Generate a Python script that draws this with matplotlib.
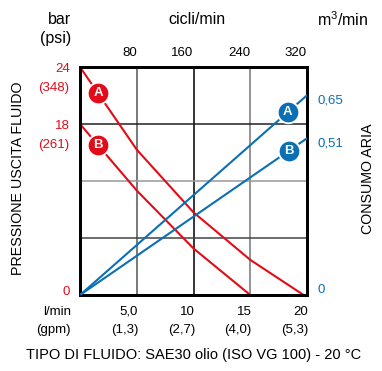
import numpy as np
import matplotlib
matplotlib.use('Agg')
import matplotlib.pyplot as plt

plt.rcParams['font.family'] = ['Liberation Sans', 'DejaVu Sans']
plt.rcParams['mathtext.fontset'] = 'custom'
plt.rcParams['mathtext.rm'] = 'Liberation Sans'

RED = '#e30b17'
BLUE = '#0a6fb5'

# flow (l/min) on the bottom axis, cycles on the top axis
flow_ticks = [5, 10, 15, 20]
flow_labels = ['5,0', '10', '15', '20']
gpm_labels = ['(1,3)', '(2,7)', '(4,0)', '(5,3)']
cycle_labels = ['80', '160', '240', '320']

# outlet pressure (bar)
bar_ticks = [0, 18, 24]
bar_labels = ['0', '18', '24']
psi_labels = ['', '(261)', '(348)']

# air consumption (m3/min)
air_ticks = [0, 0.51, 0.65]
air_labels = ['0', '0,51', '0,65']

# pressure curves
flow_A = [0, 5, 10, 15, 19.7]
press_A = [24, 15.3, 8.7, 3.7, 0]
flow_B = [0, 5, 10, 15]
press_B = [18, 11.0, 4.9, 0]

# air consumption lines
air_flow = [0, 20]
air_A = [0, 0.65]
air_B = [0, 0.51]

fig = plt.figure(figsize=(3.82, 3.71), dpi=100)
ax = fig.add_axes([80/382, 76/371, 227/382, 228/371])
ax.set_xlim(0, 20)
ax.set_ylim(0, 24)

# grid
vgrid_colors = ['#555555', '#000000', '#777777']
for x, c in zip(flow_ticks[:3], vgrid_colors):
    ax.axvline(x, color=c, lw=1.1, zorder=1)
hgrid_colors = ['#444444', '#999999', '#222222']
for y, c in zip([6, 12, 18], hgrid_colors):
    ax.axhline(y, color=c, lw=1.1, zorder=1)

ax.plot(flow_A, press_A, color=RED, lw=1.5, zorder=3)
ax.plot(flow_B, press_B, color=RED, lw=1.5, zorder=3)

ax2 = ax.twinx()
ax2.set_ylim(0, 0.742)
ax2.plot(air_flow, air_A, color=BLUE, lw=1.5, zorder=3)
ax2.plot(air_flow, air_B, color=BLUE, lw=1.5, zorder=3)

for a in (ax, ax2):
    a.set_xticks([])
    a.set_yticks([])
    for s in a.spines.values():
        s.set_linewidth(2.0)
        s.set_color('black')

# letter markers on curves
def letter(a, x, xs, ys, txt, color):
    y = np.interp(x, xs, ys)
    a.plot(x, y, 'o', ms=15.5, mfc=color, mec='white', mew=1.3, zorder=5)
    a.text(x, y, txt, color='white', fontsize=9.5, fontweight='bold',
           ha='center', va='center', zorder=6)

letter(ax, 1.6, flow_A, press_A, 'A', RED)
letter(ax, 1.6, flow_B, press_B, 'B', RED)
letter(ax2, 18.3, air_flow, air_A, 'A', BLUE)
letter(ax2, 18.4, air_flow, air_B, 'B', BLUE)

fs = 9.5
# bottom and top tick labels
for x, l1, l2, l3 in zip(flow_ticks, flow_labels, gpm_labels, cycle_labels):
    ax.annotate(l1, (x, 0), xycoords=('data', 'axes fraction'), xytext=(1, -12),
                textcoords='offset points', ha='right', va='center', fontsize=fs)
    ax.annotate(l2, (x, 0), xycoords=('data', 'axes fraction'), xytext=(1, -25),
                textcoords='offset points', ha='right', va='center', fontsize=fs)
    ax.annotate(l3, (x, 1), xycoords=('data', 'axes fraction'), xytext=(0, 10),
                textcoords='offset points', ha='right', va='center', fontsize=fs)

# left tick labels
for y, l1, l2 in zip(bar_ticks, bar_labels, psi_labels):
    dy = 2 if y == 0 else -1.5
    ax.annotate(l1, (0, y), xycoords=('axes fraction', 'data'), xytext=(-7.5, dy),
                textcoords='offset points', ha='right', va='center', fontsize=fs, color=RED)
    if l2:
        ax.annotate(l2, (0, y), xycoords=('axes fraction', 'data'), xytext=(-7.5, dy - 13.5),
                    textcoords='offset points', ha='right', va='center', fontsize=fs, color=RED)

# right tick labels
for y, l in zip(air_ticks, air_labels):
    dy = 3.5 if y == 0 else -3.5
    ax2.annotate(l, (1, y), xycoords=('axes fraction', 'data'), xytext=(7.5, dy),
                 textcoords='offset points', ha='left', va='center', fontsize=fs, color=BLUE)

# axis titles
fs2 = 11.5
fig.text(71/382, 1 - 20/371, 'bar', ha='right', va='center', fontsize=fs2)
fig.text(71/382, 1 - 38/371, '(psi)', ha='right', va='center', fontsize=fs2)
fig.text(197/382, 1 - 20/371, 'cicli/min', ha='center', va='center', fontsize=fs2)
fig.text(317/382, 1 - 20/371, 'm$^{3}$/min', ha='left', va='center', fontsize=fs2)
fig.text(71/382, 1 - 312/371, 'l/min', ha='right', va='center', fontsize=fs)
fig.text(71/382, 1 - 330/371, '(gpm)', ha='right', va='center', fontsize=fs)
fig.text(18/382, 1 - 178/371, 'PRESSIONE USCITA FLUIDO', rotation=90,
         ha='center', va='center', fontsize=10.3)
fig.text(368/382, 1 - 179/371, 'CONSUMO ARIA', rotation=90,
         ha='center', va='center', fontsize=10.3)
fig.text(194/382, 1 - 355/371, 'TIPO DI FLUIDO: SAE30 olio (ISO VG 100) - 20 °C',
         ha='center', va='center', fontsize=10.5)

fig.savefig('out.png', dpi=100)
